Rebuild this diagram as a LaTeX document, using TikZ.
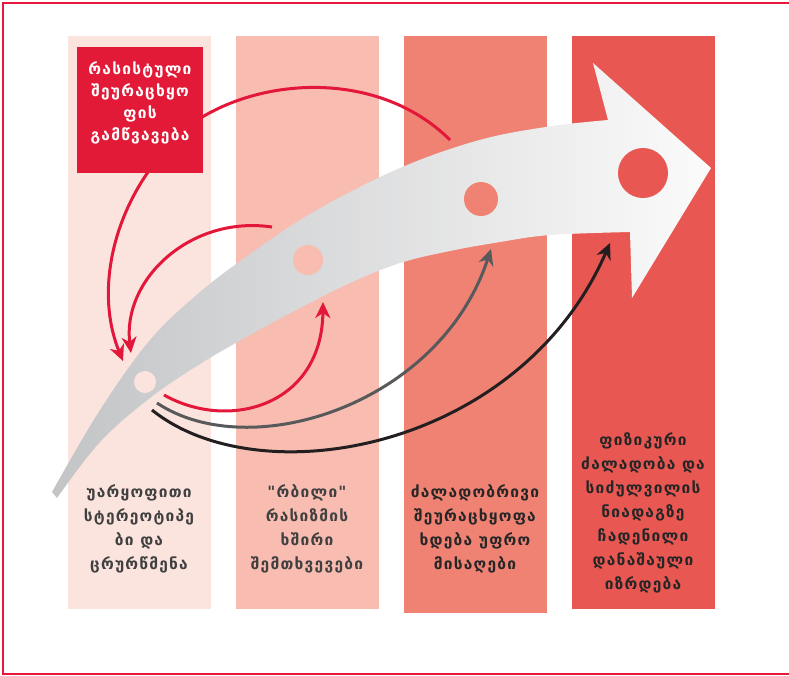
\documentclass[tikz,border=0pt]{standalone}
\usepackage{fontspec}
\setmainfont{DejaVu Sans}[Ligatures=TeXOff]
\usetikzlibrary{arrows.meta}
\definecolor{cA}{HTML}{FCE4DE}
\definecolor{cB}{HTML}{F8BCB0}
\definecolor{cC}{HTML}{F08274}
\definecolor{cD}{HTML}{E95752}
\definecolor{boxred}{HTML}{E31A37}
\definecolor{linered}{HTML}{E3173A}
\definecolor{linegray}{HTML}{58595B}
\definecolor{lineblack}{HTML}{231F20}
\definecolor{txtA}{HTML}{404040}
\definecolor{txtB}{HTML}{262626}
\definecolor{frame}{HTML}{E8193C}
\definecolor{arrL}{HTML}{C3C4C6}
\definecolor{arrR}{HTML}{FBFBFB}
\tikzset{
  lbl/.style={font=\bfseries\fontsize{15.5}{24}\selectfont\addfontfeatures{LetterSpace=8}, align=center, inner sep=0pt},
  conn/.style={line width=3pt, -{Stealth[length=16pt,width=15pt,inset=5pt]}},
  plain/.style={line width=3pt},
  dot/.style={circle, draw=none, inner sep=0pt}
}
\begin{document}
\begin{tikzpicture}[x=1pt,y=-1pt]
\useasboundingbox (0,0) rectangle (789,675);
% frame
\draw[frame, line width=1.3pt] (792,3) -- (3,3) -- (3,674) -- (792,674);
% columns
\fill[cA] (68,36) rectangle (210.5,609);
\fill[cB] (235.5,36) rectangle (378.5,609);
\fill[cC] (403.5,36) rectangle (546.5,613);
\fill[cD] (571.5,36) rectangle (714.5,609);
% big arrow
\shade[left color=arrL, right color=arrR, shading angle=90]
  (52,492) -- plot[smooth, tension=0.6] coordinates {(52,492) (100,410) (150,340) (200,292) (250,254) (300,220) (350,192) (400,168) (450,149) (500,135) (560,125) (608,120)}
  -- (593,63) -- (711,168) -- (632,298) -- (630,232)
  -- plot[smooth, tension=0.6] coordinates {(630,232) (550,235) (500,242) (450,251) (400,263) (350,283) (300,308) (250,335) (200,364) (150,398) (100,442) (57,498)}
  -- cycle;
% dots
\node[dot, fill=cA, minimum size=22pt] (d1) at (145,382) {};
\node[dot, fill=cB, minimum size=30pt] (d2) at (308,260) {};
\node[dot, fill=cC, minimum size=34pt] (d3) at (481,199) {};
\node[dot, fill=cD, minimum size=50pt] (d4) at (643,173) {};
% coordinates
\coordinate (a1s) at (148,172);
\coordinate (a1e) at (123,361);
\coordinate (a2s) at (272,227);
\coordinate (a2e) at (131,353);
\coordinate (a3s) at (190,125);
\coordinate (a3e) at (450,140);
\coordinate (a4s) at (164,395);
\coordinate (a4e) at (323,302);
\coordinate (a5s) at (157,403);
\coordinate (a5e) at (491,249);
\coordinate (a6s) at (152,410);
\coordinate (a6e) at (610,243);
% connectors
\draw[plain, linered] (a3s) .. controls (260,75) and (380,70) .. (a3e);
\draw[conn, linered] (a1s) .. controls (108,230) and (98,300) .. (a1e);
\draw[conn, linered] (a2s) .. controls (190,215) and (122,280) .. (a2e);
\draw[conn, linered] (a4s) .. controls (230,432) and (322,405) .. (a4e);
\draw[conn, linegray] (a5s) .. controls (250,465) and (440,405) .. (a5e);
\draw[conn, lineblack] (a6s) .. controls (260,497) and (520,450) .. (a6e);
% red box
\node[fill=boxred, minimum width=126pt, minimum height=126pt, inner sep=0pt] (box) at (140,109.5) {};
\node[lbl, text=white, font=\bfseries\fontsize{15.5}{22}\selectfont\addfontfeatures{LetterSpace=8}] (boxt) at (140,103) {რასისტული\\შეურაცხყო\\ფის\\გამწვავება};
% texts
\node[lbl, text=txtA, anchor=north] (t1) at (139,484) {უარყოფითი\\სტერეოტიპე\\ბი და\\ცრურწმენა};
\node[lbl, text=txtA, anchor=north] (t2) at (307,484) {"რბილი"\\რასიზმის\\ხშირი\\შემთხვევები};
\node[lbl, text=txtB, anchor=north] (t3) at (475,484) {ძალადობრივი\\შეურაცხყოფა\\ხდება უფრო\\მისაღები};
\node[lbl, text=txtB, anchor=north] (t4) at (643,432) {ფიზიკური\\ძალადობა და\\სიძულვილის\\ნიადაგზე\\ჩადენილი\\დანაშაული\\იზრდება};
\end{tikzpicture}
\end{document}
